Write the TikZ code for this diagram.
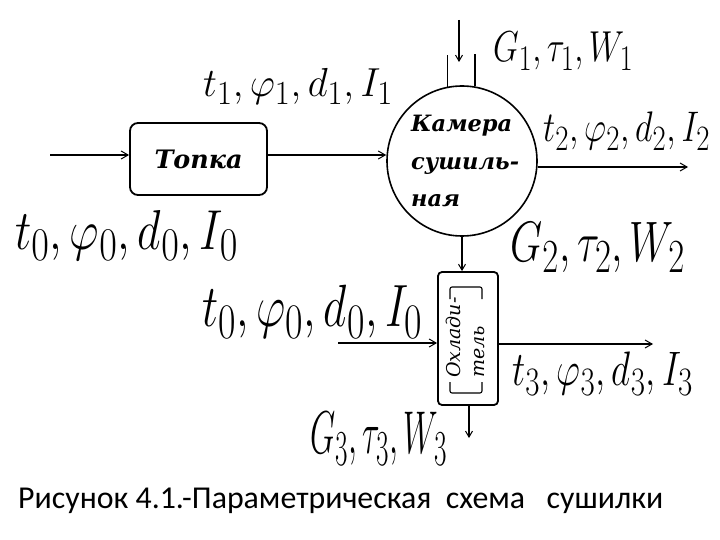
\documentclass[tikz,border=0pt]{standalone}
\usepackage{fontspec}
\newfontfamily\dvs{DejaVu Serif}
\newfontfamily\capfont{Carlito}
\usepackage{graphicx}
\usetikzlibrary{arrows.meta,calc}
\newcommand\lbl[3]{\resizebox*{#1pt}{#2pt}{\fontsize{30}{36}\selectfont $#3$}}
\tikzset{
  box/.style={draw, line width=1.8pt, rounded corners=8pt, inner sep=0},
  flow/.style={line width=2.4pt, -{Straight Barb[length=7pt,width=8pt,line width=1pt]}},
  vflow/.style={line width=1.6pt, -{Straight Barb[length=6pt,width=7pt,line width=1pt]}},
  lab/.style={inner sep=0, anchor=north west},
  pipe/.style={line width=1.5pt},
  brk/.style={line width=1.1pt, rounded corners=2pt},
}
\begin{document}
\begin{tikzpicture}[x=1pt,y=-1pt]
\useasboundingbox (0,0) rectangle (720,540);
% nodes
\node[box, minimum width=137pt, minimum height=72pt] (topka) at (198.5,159) {\resizebox{88pt}{!}{\dvs\fontsize{26}{30}\selectfont\bfseries\itshape Топка}};
\node[draw, circle, line width=1.6pt, minimum size=150pt, inner sep=0] (camera) at (462,161) {};
\node[anchor=north west, inner sep=0, align=left, font=\dvs\fontsize{22.5}{37.5}\selectfont\bfseries\itshape] (camtext) at (411,115) {Камера\\сушиль-\\ная};
\node[draw, line width=1.8pt, rounded corners=4pt, minimum width=60pt, minimum height=133pt, inner sep=0] (cooler) at (468,338.5) {};
\node[rotate=90, anchor=west, align=left, inner sep=0, font=\dvs\fontsize{19}{24}\selectfont\itshape] (cooltext) at (465,378) {Охлади-\\тель};
\draw[brk] (450,299) -- (450,287) -- (482,287) -- (482,299);
\draw[brk] (450,382) -- (450,393) -- (482,393) -- (482,382);
% labels
\node[lab] (lt1) at (203,68) {\lbl{190}{36}{t_1,\varphi_1,d_1,I_1}};
\node[lab] (lg1) at (493,32) {\lbl{140}{38}{G_1,\tau_1,W_1}};
\node[lab] (lt2) at (543,112) {\lbl{167}{38}{t_2,\varphi_2,d_2,I_2}};
\node[lab] (lt0a) at (15,210) {\lbl{223}{50}{t_0,\varphi_0,d_0,I_0}};
\node[lab] (lg2) at (510,222) {\lbl{175}{50}{G_2,\tau_2,W_2}};
\node[lab] (lt0b) at (202,285) {\lbl{221}{53}{t_0,\varphi_0,d_0,I_0}};
\node[lab] (lt3) at (512,352) {\lbl{181}{43}{t_3,\varphi_3,d_3,I_3}};
\node[lab] (lg3) at (310,412) {\lbl{137}{53}{G_3,\tau_3,W_3}};
\node[anchor=base west, inner sep=0] (cap) at (18,508) {\resizebox{645pt}{!}{\capfont\fontsize{30}{36}\selectfont Рисунок 4.1.-Параметрическая\ \ схема\ \ \ сушилки}};
% connectors
\coordinate (in0) at (50,155);
\draw[flow] (in0) -- (in0 -| topka.west);
\draw[flow] (in0 -| topka.east) -- (in0 -| camera.west);
\coordinate (out2) at (688,167);
\draw[flow] (out2 -| camera.east) -- (out2);
\draw[pipe] (camera.101) -- ++(0,-32);
\draw[pipe] (camera.80) -- ++(0,-32);
\coordinate (g1in) at (459,20);
\draw[vflow] (g1in) -- ++(0,42);
\draw[vflow] (camera.south) -- (camera.south |- cooler.north);
\coordinate (in3) at (338,343);
\draw[flow] (in3) -- (in3 -| cooler.west);
\coordinate (out3) at (653,344);
\draw[flow] (out3 -| cooler.east) -- (out3);
\coordinate (out3b) at (469,438);
\draw[vflow] (out3b |- cooler.south) -- (out3b);
\end{tikzpicture}
\end{document}
